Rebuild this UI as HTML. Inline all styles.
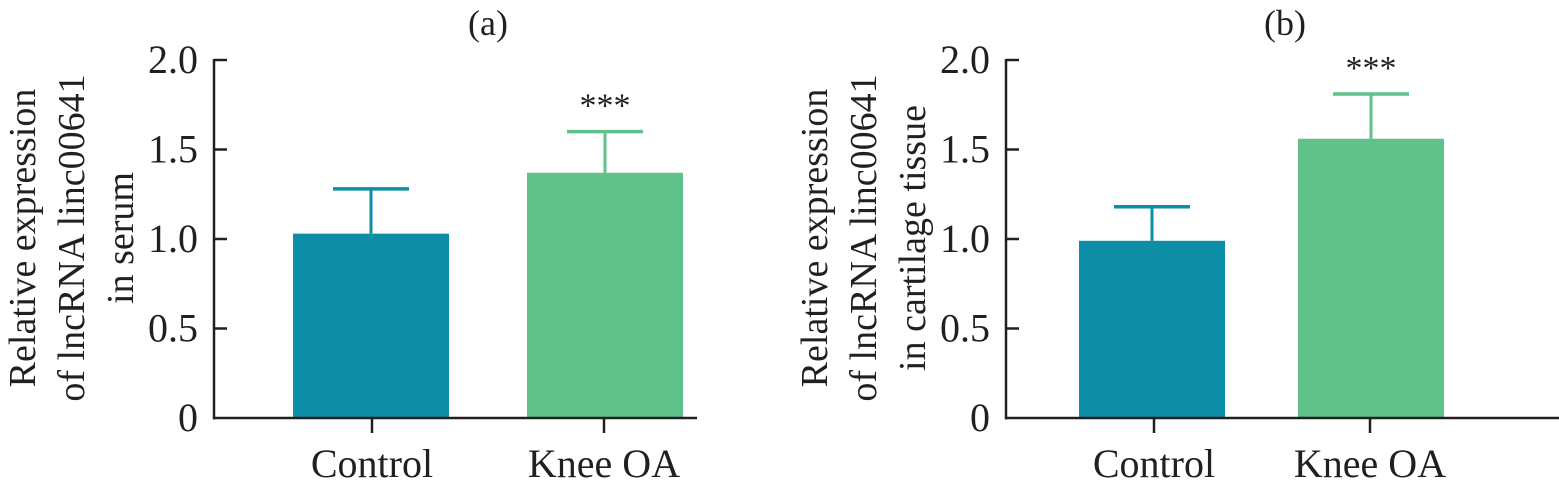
<!DOCTYPE html>
<html><head><meta charset="utf-8"><style>
html,body{margin:0;padding:0;background:#fff;}
svg{display:block;}
text{font-family:"Liberation Serif",serif;fill:#231f20;}
</style></head><body>
<svg id="chart" width="1559" height="492" viewBox="0 0 1559 492" xmlns="http://www.w3.org/2000/svg"></svg>
<script>
const categories = ["Control", "Knee OA"];
const serumMeans = [1.03, 1.37];
const serumErrors = [0.25, 0.23];
const tissueMeans = [0.99, 1.56];
const tissueErrors = [0.19, 0.25];
const yTicks = [0, 0.5, 1.0, 1.5, 2.0];
const yTickLabels = ["0", "0.5", "1.0", "1.5", "2.0"];
const panelTitles = ["(a)", "(b)"];
const stars = ["***", "***"];

const NS = "http://www.w3.org/2000/svg";
const svg = document.getElementById("chart");
const colors = ["#0e8ea6", "#60c18b"];
function mk(tag, attrs, parent) {
  const e = document.createElementNS(NS, tag);
  for (const k in attrs) e.setAttribute(k, attrs[k]);
  (parent || svg).appendChild(e);
  return e;
}
const y0 = 418, y2 = 60;
function yScale(v) { return y0 - (y0 - y2) * v / 2.0; }

const panels = [
  {id: "a", axisX: 214, axisEnd: 697, barL: [293, 527], barW: 156, ticksX: [372, 604], means: serumMeans, errs: serumErrors, title: panelTitles[0], titleX: 488, ylab: ["Relative expression", "of lncRNA linc00641", "in serum"], ylabX: [35, 84, 133], sig: stars[0]},
  {id: "b", axisX: 1006, axisEnd: 1559, barL: [1079, 1298], barW: 146, ticksX: [1154, 1370], means: tissueMeans, errs: tissueErrors, title: panelTitles[1], titleX: 1285, ylab: ["Relative expression", "of lncRNA linc00641", "in cartilage tissue"], ylabX: [827, 876, 925], sig: stars[1]}
];

panels.forEach(p => {
  const g = mk("g", {});
  
  
  const t = mk("text", {x: p.titleX, y: 35, "text-anchor": "middle", "font-size": 36}, g);
  t.textContent = p.title;
  
  
  // y-axis title
  p.ylab.forEach((line, i) => {
    const yl = mk("text", {x: 0, y: 0, "text-anchor": "middle", "font-size": 38, transform: "translate(" + p.ylabX[i] + ",238) rotate(-90)"}, g);
    yl.textContent = line;
    
    
  });
  // bars
  p.means.forEach((m, i) => {
    const top = yScale(m);
    const b = mk("rect", {x: p.barL[i], y: top, width: p.barW, height: y0 - top, fill: colors[i]}, g);
    
    
    const cx = p.barL[i] + p.barW / 2;
    const et = yScale(m + p.errs[i]);
    const e1 = mk("line", {x1: cx, x2: cx, y1: top, y2: et, stroke: colors[i], "stroke-width": 3}, g);
    
    
    const e2 = mk("line", {x1: cx - 38, x2: cx + 38, y1: et, y2: et, stroke: colors[i], "stroke-width": 3.5}, g);
    
    
    if (i === 1) {
      const s = mk("text", {x: cx, y: et - 15, "text-anchor": "middle", "font-size": 34}, g);
      s.textContent = p.sig;
      
      
    }
  });
  // axes
  const ya = mk("line", {x1: p.axisX, x2: p.axisX, y1: y2 - 1, y2: y0 + 1.5, stroke: "#231f20", "stroke-width": 2.5}, g);
  
  
  const xa = mk("line", {x1: p.axisX - 1, x2: p.axisEnd, y1: y0, y2: y0, stroke: "#231f20", "stroke-width": 2.5}, g);
  
  
  yTicks.forEach((v, i) => {
    const yy = yScale(v);
    if (i > 0) {
      const tk = mk("line", {x1: p.axisX, x2: p.axisX + 13, y1: yy, y2: yy, stroke: "#231f20", "stroke-width": 2.5}, g);
      
      
    }
    const tl = mk("text", {x: p.axisX - 16, y: yy + 13, "text-anchor": "end", "font-size": 40}, g);
    tl.textContent = yTickLabels[i];
    
    
  });
  categories.forEach((c, i) => {
    const tk = mk("line", {x1: p.ticksX[i], x2: p.ticksX[i], y1: y0, y2: 433, stroke: "#231f20", "stroke-width": 2.5}, g);
    
    
    const cl = mk("text", {x: p.ticksX[i], y: 477, "text-anchor": "middle", "font-size": 40}, g);
    cl.textContent = c;
    
    
  });
});
</script>
</body></html>
